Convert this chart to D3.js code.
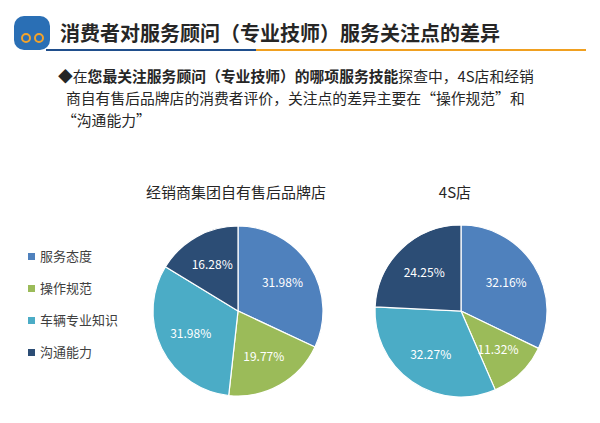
<!DOCTYPE html>
<html><head><meta charset="utf-8">
<script src="https://cdn.jsdelivr.net/npm/d3@7"></script>
<style>body{margin:0;background:#fff}svg{font-family:"Noto Sans CJK SC",sans-serif}</style>
</head><body>
<svg width="600" height="423"></svg>
<script>
var categories = ['服务态度', '操作规范', '车辆专业知识', '沟通能力'];
var dealerValues = [31.98, 19.77, 31.98, 16.28];
var fourSValues = [32.16, 11.32, 32.27, 24.25];
var colors = ['#4f81bd', '#9bbb59', '#4bacc6', '#2c4d75'];

var svg = d3.select('svg');

// header
var logo = svg.append('g').attr('transform', 'translate(14,16)');
logo.append('rect').attr('width', 36).attr('height', 34).attr('rx', 10).attr('fill', '#2a6fb5');
logo.append('circle').attr('cx', 12).attr('cy', 22).attr('r', 4).attr('fill', 'none').attr('stroke', '#f3a32a').attr('stroke-width', 2);
logo.append('circle').attr('cx', 25).attr('cy', 22).attr('r', 4).attr('fill', 'none').attr('stroke', '#f3a32a').attr('stroke-width', 2);
svg.append('text').attr('x', 60).attr('y', 41).style('font-size', '20px').style('font-weight', 'bold')
    .attr('fill', '#262626').text('消费者对服务顾问（专业技师）服务关注点的差异');
svg.append('line').attr('x1', 46).attr('x2', 256).attr('y1', 50).attr('y2', 50).attr('stroke', '#1f4e8c').attr('stroke-width', 2);
svg.append('line').attr('x1', 256).attr('x2', 586).attr('y1', 50).attr('y2', 50).attr('stroke', '#f0a020').attr('stroke-width', 2);

var intro = svg.append('text').attr('x', 58).attr('y', 82).style('font-size', '14.8px').attr('fill', '#262626');
intro.append('tspan').text('◆在');
intro.append('tspan').style('font-weight', 'bold').text('您最关注服务顾问（专业技师）的哪项服务技能');
intro.append('tspan').text('探查中，4S店和经销');
svg.append('text').attr('x', 66).attr('y', 104).style('font-size', '14.8px').attr('fill', '#262626')
    .text('商自有售后品牌店的消费者评价，关注点的差异主要在“操作规范”和');
svg.append('text').attr('x', 62).attr('y', 126).style('font-size', '14.8px').attr('fill', '#262626')
    .text('“沟通能力”');

// legend
var legend = svg.selectAll('.lg').data(categories).enter().append('g')
    .attr('transform', function(d, i) { return 'translate(28,' + (257 + i * 32) + ')'; });
legend.append('rect').attr('x', 0).attr('y', -4).attr('width', 7).attr('height', 7).attr('fill', function(d, i) { return colors[i]; });
legend.append('text').attr('x', 12).attr('y', 4).style('font-size', '13px').attr('fill', '#404040').text(function(d) { return d; });

function drawPie(values, cx, cy, r, title, tx) {
    var pie = d3.pie().sort(null)(values);
    var arc = d3.arc().innerRadius(0).outerRadius(r);
    var lab = d3.arc().innerRadius(r * 0.62).outerRadius(r * 0.62);
    var g = svg.append('g').attr('transform', 'translate(' + cx + ',' + cy + ')');
    g.selectAll('path').data(pie).enter().append('path')
        .attr('d', arc).attr('fill', function(d, i) { return colors[i]; })
        .attr('stroke', '#fff').attr('stroke-width', 1.2);
    g.selectAll('text').data(pie).enter().append('text')
        .attr('transform', function(d) { return 'translate(' + lab.centroid(d) + ')'; })
        .attr('text-anchor', 'middle').attr('dy', '0.35em')
        .style('font-size', '12px').attr('fill', '#fff')
        .text(function(d) { return d.data.toFixed(2) + '%'; });
    svg.append('text').attr('x', tx).attr('y', 198).attr('text-anchor', 'middle')
        .style('font-size', '15px').attr('fill', '#262626').text(title);
}
drawPie(dealerValues, 238, 311, 85, '经销商集团自有售后品牌店', 236);
drawPie(fourSValues, 461, 311, 86, '4S店', 455);
</script>
</body></html>
